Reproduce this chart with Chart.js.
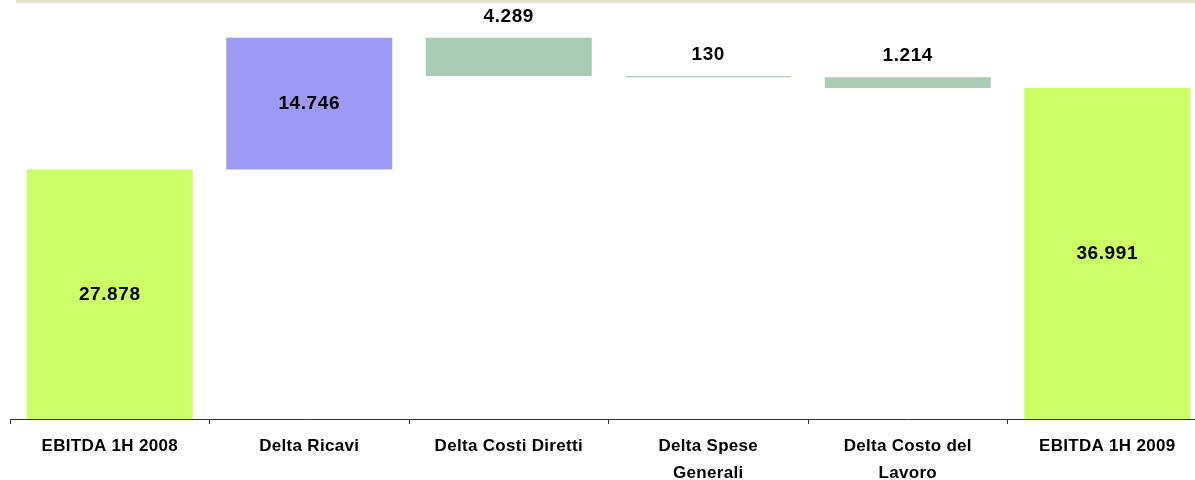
<!DOCTYPE html>
<html>
<head>
<meta charset="utf-8">
<script src="https://cdn.jsdelivr.net/npm/chart.js@4"></script>
<style>
  html, body { margin: 0; padding: 0; background: #ffffff; overflow: hidden; }
  #wrap { width: 1210px; height: 480px; position: relative; }
</style>
</head>
<body>
<div id="wrap"><canvas id="c"></canvas></div>
<script>
// ---- data ----
const categories = [
  "EBITDA 1H 2008",
  "Delta Ricavi",
  "Delta Costi Diretti",
  ["Delta Spese", "Generali"],
  ["Delta Costo del", "Lavoro"],
  "EBITDA 1H 2009"
];
const values = [27878, 14746, -4289, -130, -1214, 36991];
const kinds  = ["total", "delta", "delta", "delta", "delta", "total"];
const yMax = 46500;

// ---- build floating ranges ----
const ranges = [];
let running = 0;
values.forEach((v, i) => {
  if (kinds[i] === "total") { ranges.push([0, v]); running = v; }
  else { ranges.push([running, running + v]); running += v; }
});

const COL_TOTAL = "#ccff66", COL_POS = "#9f99f6", COL_NEG = "#a8cdb4";
const colors = values.map((v, i) => kinds[i] === "total" ? COL_TOTAL : (v >= 0 ? COL_POS : COL_NEG));
const FONT = "'Liberation Sans', Arial, sans-serif";

function fmt(n) {
  return Math.abs(n).toLocaleString("it-IT");
}

const spacingPlugin = {
  id: "spacing",
  beforeDraw(chart) {
    const ctx = chart.ctx;
    ctx.letterSpacing = "0.3px";
    // thin beige band at the very top
    ctx.save();
    ctx.fillStyle = "#e4e4cb";
    ctx.fillRect(chart.chartArea.left + 6, 0, chart.width, 3);
    ctx.restore();
  }
};

const labelPlugin = {
  id: "valueLabels",
  afterDatasetsDraw(chart) {
    const ctx = chart.ctx;
    const y = chart.scales.y;
    const meta = chart.getDatasetMeta(0);
    ctx.save();
    ctx.letterSpacing = "0.6px";
    ctx.font = "bold 19px " + FONT;
    ctx.fillStyle = "#000000";
    ctx.textAlign = "center";
    ctx.textBaseline = "middle";
    meta.data.forEach((bar, i) => {
      const r = ranges[i];
      const top = y.getPixelForValue(Math.max(r[0], r[1]));
      const bot = y.getPixelForValue(Math.min(r[0], r[1]));
      let ty;
      if (values[i] < 0) ty = top - 21;
      else ty = (top + bot) / 2;
      ctx.fillText(fmt(values[i]), bar.x, ty);
    });
    ctx.restore();
  }
};

new Chart(document.getElementById("c"), {
  type: "bar",
  data: {
    labels: categories,
    datasets: [{
      data: ranges,
      backgroundColor: colors,
      borderWidth: 0,
      barPercentage: 0.832,
      categoryPercentage: 1.0
    }]
  },
  options: {
    responsive: true,
    maintainAspectRatio: false,
    animation: false,
    layout: { padding: { left: 10, right: 3, top: 3, bottom: 0 } },
    plugins: { legend: { display: false }, tooltip: { enabled: false } },
    scales: {
      x: {
        offset: true,
        grid: {
          offset: true,
          drawOnChartArea: false,
          drawTicks: true,
          tickLength: 5,
          color: "#333333"
        },
        border: { display: true, color: "#333333", width: 1 },
        ticks: {
          color: "#000000",
          font: { family: FONT, size: 17, weight: "bold", lineHeight: 1.6 },
          padding: 9,
          maxRotation: 0,
          autoSkip: false
        },
        afterFit(scale) { scale.height = 61; }
      },
      y: {
        display: false,
        min: 0,
        max: yMax
      }
    }
  },
  plugins: [spacingPlugin, labelPlugin]
});
</script>
</body>
</html>
